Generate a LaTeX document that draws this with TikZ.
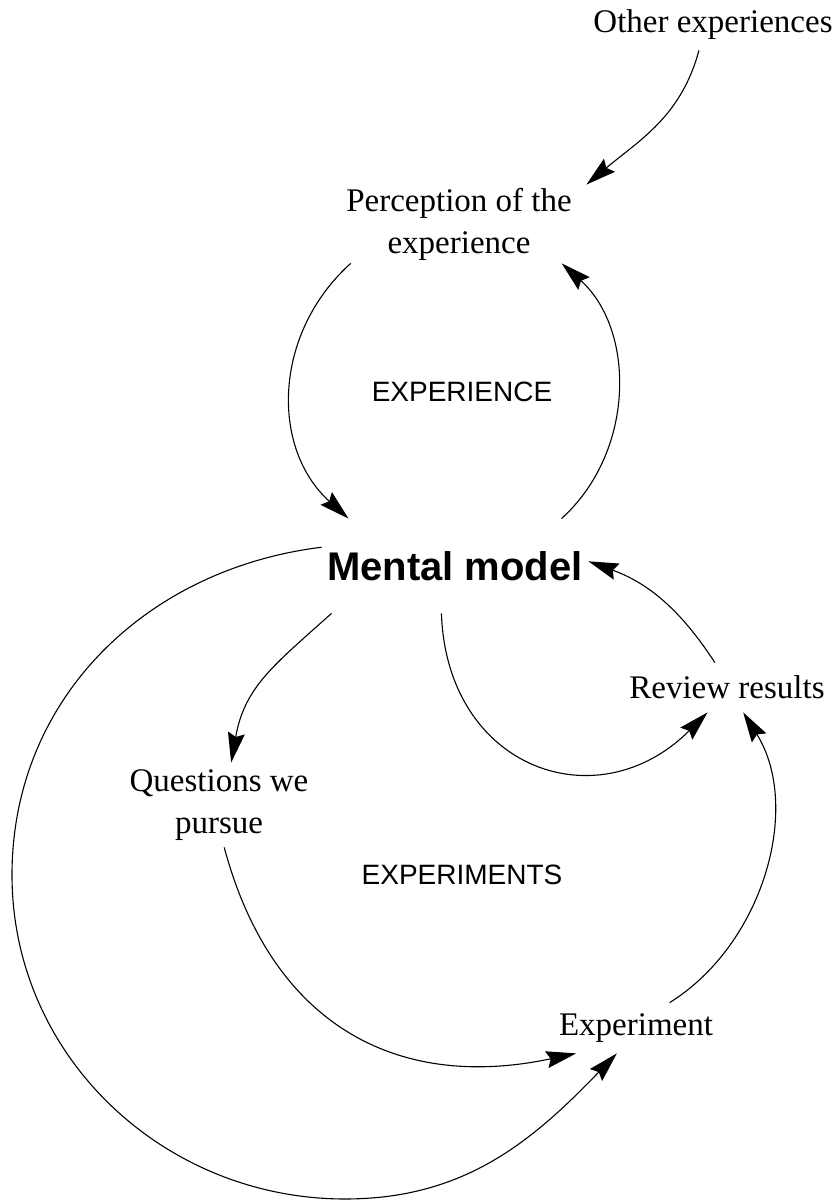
\documentclass[tikz,border=0pt]{standalone}
\usepackage{fontspec}
\setmainfont{Liberation Serif}
\setsansfont{Liberation Sans}
\usetikzlibrary{arrows.meta}

\begin{document}
\begin{tikzpicture}[
    x=0.5pt, y=0.5pt,
    stage/.style={inner sep=0pt, align=center, font=\fontsize{16.5}{21}\selectfont},
    loopname/.style={font=\sffamily\fontsize{14}{16}\selectfont},
    arrow/.style={-{Stealth[length=15pt, width=8.5pt, inset=2pt]}, line width=0.55pt}
]
\useasboundingbox (0,0) rectangle (838,1202);

\node[stage, minimum width=120pt, minimum height=25pt] (other) at (713,1177) {Other experiences};
\node[stage, minimum width=127pt, minimum height=39pt] (perc) at (459,978) {Perception of the\\experience};
\node[loopname] (experience) at (462,810) {EXPERIENCE};
\node[inner sep=0pt, minimum width=133pt, minimum height=47pt,
      font=\sffamily\bfseries\fontsize{20}{24}\selectfont] (mm) at (455,636) {Mental model};
\node[stage, minimum width=100pt, minimum height=24.5pt] (review) at (727,514.5) {Review results};
\node[stage, minimum width=92pt, minimum height=42pt] (quest) at (219,397) {Questions we\\pursue};
\node[loopname] (experiments) at (462,327) {EXPERIMENTS};
\node[stage, minimum width=78pt, minimum height=25pt] (expt) at (636,174) {Experiment};

% turning points of the outer loop
\coordinate (loopW) at (12,327);
\coordinate (loopS) at (345,3);

\draw[arrow] (other.241) to[out=-105, in=40] (perc.north east);
\draw[arrow] (perc.200) to[out=222, in=138, looseness=1.05] (mm.156);
\draw[arrow] (mm.24) to[out=42, in=-42, looseness=1.0] (perc.-21);
\draw[arrow] (review.116) to[out=123, in=-20] (mm.2);
\draw[arrow] (mm.201) to[out=222, in=80, looseness=1.1] (quest.74);
\draw[arrow] (mm.254) to[out=-88, in=225, looseness=1.4] (review.232);
\draw[arrow] (quest.-83) to[out=-75, in=192, looseness=1.15] (expt.203);
\draw[arrow] (expt.37) to[out=32, in=-58, looseness=0.95] (review.-57);
\draw[arrow] (mm.172) to[out=187, in=90] (loopW) to[out=-90, in=180] (loopS) to[out=0, in=226] (expt.233);
\end{tikzpicture}
\end{document}
